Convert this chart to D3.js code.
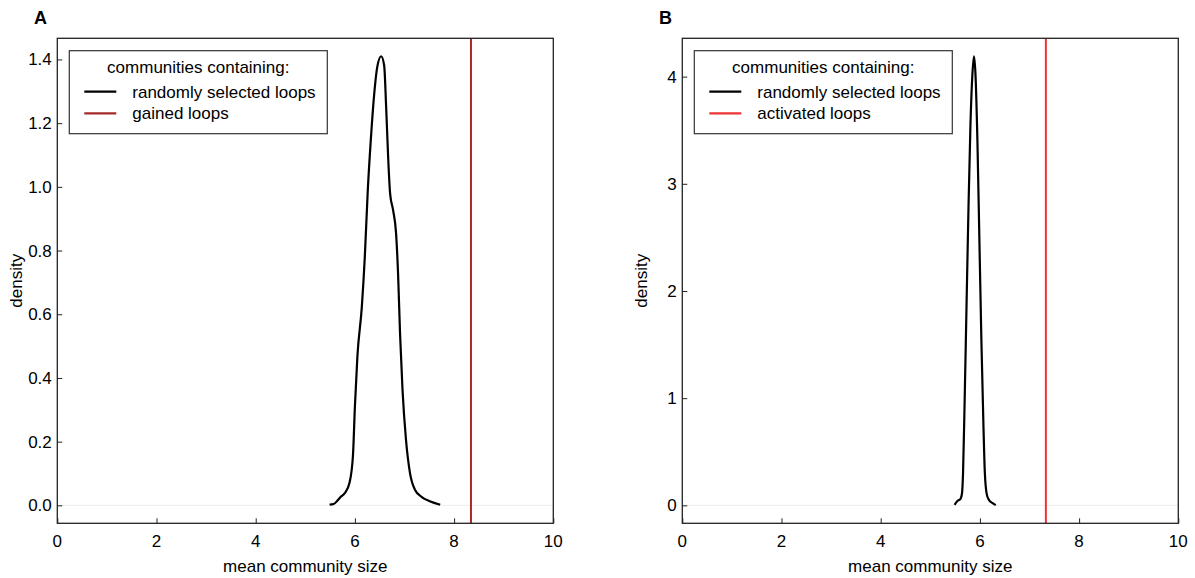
<!DOCTYPE html>
<html>
<head>
<meta charset="utf-8">
<script src="https://cdn.jsdelivr.net/npm/d3@7"></script>
<style>
  body { margin: 0; background: #fff; }
  svg { font-family: "Liberation Sans", Arial, sans-serif; }
</style>
</head>
<body>
<div id="chart"></div>
<script>
// density curves
const sizeA = [5.49, 5.57, 5.65, 5.71, 5.80, 5.89, 5.96, 6.00, 6.05, 6.14, 6.20, 6.26, 6.32, 6.39, 6.45, 6.53,
               6.59, 6.63, 6.67, 6.71, 6.77, 6.83, 6.87, 6.91, 6.96, 7.03, 7.11, 7.21, 7.35, 7.51, 7.72];
const densA = [0.002, 0.004, 0.015, 0.026, 0.039, 0.070, 0.154, 0.310, 0.467, 0.624, 0.781, 0.990, 1.146, 1.293, 1.376, 1.410,
               1.381, 1.251, 1.094, 0.979, 0.927, 0.854, 0.729, 0.540, 0.363, 0.206, 0.102, 0.049, 0.026, 0.013, 0.002];

const sizeB = [5.49, 5.54, 5.61, 5.64, 5.66, 5.69, 5.73, 5.77, 5.81, 5.85, 5.88, 5.91, 5.95, 5.99, 6.03, 6.07,
               6.10, 6.14, 6.18, 6.25, 6.32];
const densB = [0.005, 0.037, 0.06, 0.115, 0.30, 0.92, 1.85, 2.78, 3.56, 4.03, 4.19, 4.03, 3.40, 2.47, 1.54, 0.77,
               0.30, 0.10, 0.053, 0.022, 0.002];

const gainedA = 8.34;      // mean size, gained loops
const activatedB = 7.33;   // mean size, activated loops

const xTicks = [0, 2, 4, 6, 8, 10];
const yTicksA = [0, 0.2, 0.4, 0.6, 0.8, 1.0, 1.2, 1.4];
const yTicksB = [0, 1, 2, 3, 4];

const W = 1195, H = 578;
const svg = d3.select("#chart").append("svg")
  .attr("width", W)
  .attr("height", H);

function drawPanel(opt) {
  const left = opt.left, top = 38.3, width = 496, height = 485;
  const g = svg.append("g").attr("transform", "translate(" + left + "," + top + ")");

  const x = d3.scaleLinear().domain([0, 10]).range([0, width]);
  // R style 4% padding on the y range
  const pad = opt.ymax * 0.04;
  const y = d3.scaleLinear().domain([-pad, opt.ymax + pad]).range([height, 0]);

  // faint line at zero
  g.append("line")
    .attr("x1", 0).attr("x2", width)
    .attr("y1", y(0)).attr("y2", y(0))
    .style("stroke", "#ececec")
    .style("stroke-width", 1);

  // axes, ticks pointing inward
  const xAxis = d3.axisTop(x).tickValues(xTicks).tickSize(5).tickFormat("");
  const xg = g.append("g").attr("transform", "translate(0," + height + ")").call(xAxis);
  xg.select(".domain").remove();
  xg.selectAll(".tick line").style("stroke", "#222");

  const yAxis = d3.axisRight(y).tickValues(opt.yTicks).tickSize(5).tickFormat("");
  const yg = g.append("g").call(yAxis);
  yg.select(".domain").remove();
  yg.selectAll(".tick line").style("stroke", "#222");

  // tick labels
  g.selectAll(".xlab")
    .data(xTicks).enter()
    .append("text")
    .attr("x", d => x(d))
    .attr("y", height + 24)
    .style("text-anchor", "middle")
    .style("font-size", "17px")
    .text(d => d);

  g.selectAll(".ylab")
    .data(opt.yTicks).enter()
    .append("text")
    .attr("x", -5.5)
    .attr("y", d => y(d) + 6)
    .style("text-anchor", "end")
    .style("font-size", "17px")
    .text(opt.yFormat);

  // axis titles
  g.append("text")
    .attr("x", width / 2)
    .attr("y", height + 48.5)
    .style("text-anchor", "middle")
    .style("font-size", "17px")
    .text("mean community size");

  g.append("text")
    .attr("transform", "rotate(-90)")
    .attr("x", -height / 2)
    .attr("y", -35.3)
    .style("text-anchor", "middle")
    .style("font-size", "17px")
    .text("density");

  // panel letter
  g.append("text")
    .attr("x", opt.letterX - left)
    .attr("y", 24 - top)
    .style("font-size", "18px")
    .style("font-weight", "bold")
    .text(opt.letter);

  // observed value
  g.append("line")
    .attr("x1", x(opt.observed)).attr("x2", x(opt.observed))
    .attr("y1", 0).attr("y2", height)
    .style("stroke", opt.color)
    .style("stroke-width", 2);

  // density curve
  const line = d3.line()
    .x((d, i) => x(opt.sizes[i]))
    .y(d => y(d))
    .curve(d3.curveMonotoneX);
  g.append("path")
    .datum(opt.dens)
    .attr("d", line)
    .style("fill", "none")
    .style("stroke", "#000")
    .style("stroke-width", 2.2)
    .style("stroke-linejoin", "round");

  // box
  g.append("rect")
    .attr("x", 0).attr("y", 0)
    .attr("width", width).attr("height", height)
    .style("fill", "none")
    .style("stroke", "#222")
    .style("stroke-width", 1.3);

  // legend
  const lg = g.append("g").attr("transform", "translate(12,12.4)");
  lg.append("rect")
    .attr("width", 258).attr("height", 83)
    .style("fill", "#fff")
    .style("stroke", "#333")
    .style("stroke-width", 1.2);
  lg.append("text")
    .attr("x", 129).attr("y", 22)
    .style("text-anchor", "middle")
    .style("font-size", "17px")
    .text("communities containing:");
  const items = [["randomly selected loops", "#000"], [opt.label, opt.color]];
  items.forEach(function(it, i) {
    const yy = 41 + i * 21.6;
    lg.append("line")
      .attr("x1", 15).attr("x2", 47)
      .attr("y1", yy).attr("y2", yy)
      .style("stroke", it[1])
      .style("stroke-width", 2.2);
    lg.append("text")
      .attr("x", 63).attr("y", yy + 6)
      .style("font-size", "17px")
      .text(it[0]);
  });
}

drawPanel({
  left: 57.3, letter: "A", letterX: 34, ymax: 1.41,
  yTicks: yTicksA, yFormat: d => d.toFixed(1),
  sizes: sizeA, dens: densA, observed: gainedA,
  color: "#a52a2a", label: "gained loops"
});

drawPanel({
  left: 682.3, letter: "B", letterX: 659, ymax: 4.19,
  yTicks: yTicksB, yFormat: d => d,
  sizes: sizeB, dens: densB, observed: activatedB,
  color: "#ee3333", label: "activated loops"
});
</script>
</body>
</html>
